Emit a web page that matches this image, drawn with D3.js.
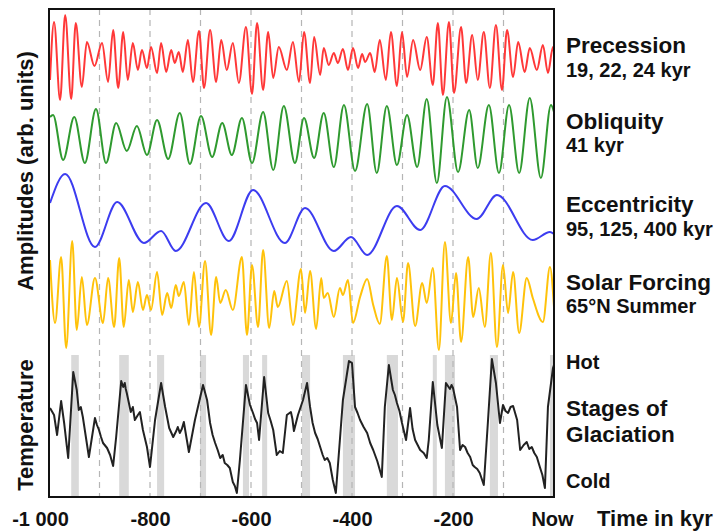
<!DOCTYPE html>
<html>
<head>
<meta charset="utf-8">
<script src="https://cdn.jsdelivr.net/npm/d3@7"></script>
<style>
  body { margin: 0; background: #fff; }
  text { font-family: "Liberation Sans", Arial, sans-serif; font-weight: bold; fill: #111; }
</style>
</head>
<body>
<div id="chart"></div>
<script>
// values: [time in kyr, amplitude in arb. units]
const precession = [[-998,-22],[-990,36],[-978,-42],[-968,43],[-956,-41],[-947,35],[-935,-29],[-925,16],[-910,-8],
  [-895,15],[-883,-24],[-873,28],[-863,-30],[-853,26],[-844,-22],[-834,15],[-824,-12],[-816,8],[-806,-10],[-798,11],
  [-786,-15],[-778,15],[-768,-14],[-758,8],[-751,-5],[-743,6],[-735,-14],[-725,18],[-715,-24],[-703,27],[-693,-30],
  [-681,28],[-669,-24],[-659,18],[-648,-12],[-636,15],[-624,-25],[-610,31],[-598,-36],[-588,35],[-576,-32],[-566,26],
  [-556,-20],[-545,11],[-529,-12],[-517,16],[-505,-24],[-495,26],[-483,-25],[-475,21],[-463,-17],[-456,10],[-446,-7],
  [-436,5],[-428,-5],[-418,9],[-408,-12],[-398,10],[-388,-10],[-380,4],[-374,-4],[-364,5],[-355,-14],[-345,18],
  [-333,-22],[-323,26],[-311,-28],[-301,26],[-291,-19],[-279,18],[-265,-12],[-252,21],[-240,-27],[-230,35],[-220,-37],
  [-208,36],[-198,-35],[-184,31],[-174,-25],[-162,23],[-151,-22],[-139,26],[-127,-30],[-115,33],[-103,-32],[-93,28],
  [-81,-19],[-71,16],[-58,-14],[-48,10],[-34,-12],[-22,13],[-12,-15],[-2,11],[0,6]];

const obliquity = [[-998,23],[-992,25],[-972,-20],[-950,23],[-929,-23],[-907,31],[-887,-23],[-867,17],[-846,-11],
  [-826,14],[-806,-15],[-786,20],[-764,-19],[-741,27],[-721,-24],[-699,24],[-677,-17],[-657,17],[-638,-15],[-618,22],
  [-598,-23],[-576,28],[-556,-30],[-535,34],[-513,-23],[-495,22],[-475,-18],[-456,27],[-436,-27],[-416,35],[-394,-31],
  [-370,36],[-351,-33],[-331,34],[-311,-25],[-291,25],[-271,-27],[-252,41],[-232,-43],[-212,43],[-190,-32],[-168,30],
  [-151,-28],[-129,35],[-109,-33],[-89,35],[-69,-33],[-48,42],[-26,-38],[-6,35],[0,28]];

const eccentricity = [[-998,12],[-968,41],[-909,-32],[-865,13],[-812,-28],[-778,-16],[-749,-36],[-689,12],[-644,-26],
  [-596,25],[-533,-28],[-493,7],[-436,-36],[-402,-22],[-370,-40],[-311,9],[-265,-15],[-216,29],[-153,-4],[-113,20],
  [-42,-25],[-8,-17],[0,-19]];

const solarForcing = [[-998,35],[-988,-28],[-976,38],[-966,-53],[-954,54],[-945,-35],[-935,18],[-925,-30],[-909,17],
  [-893,-28],[-883,17],[-871,-32],[-861,37],[-852,-32],[-842,15],[-834,-17],[-824,13],[-814,-15],[-806,0],[-798,-15],
  [-786,23],[-776,-20],[-766,2],[-758,-13],[-749,10],[-743,-1],[-733,13],[-723,-30],[-713,23],[-703,-32],[-691,34],
  [-679,-40],[-669,18],[-661,-8],[-650,5],[-636,-15],[-618,38],[-608,-40],[-598,30],[-586,-32],[-576,45],[-564,-33],
  [-554,4],[-547,-12],[-529,14],[-517,-30],[-501,26],[-493,-18],[-483,24],[-471,-34],[-461,17],[-456,-3],[-448,2],
  [-436,-22],[-424,7],[-418,0],[-408,15],[-398,-28],[-384,-2],[-370,16],[-358,-10],[-345,-29],[-331,39],[-321,-25],
  [-311,17],[-299,-27],[-289,32],[-275,-31],[-261,12],[-252,-8],[-240,27],[-228,-55],[-216,53],[-204,-28],[-194,22],
  [-184,-47],[-170,38],[-160,-22],[-149,7],[-137,-32],[-125,42],[-113,-52],[-101,30],[-91,-18],[-81,23],[-69,-38],
  [-54,17],[-42,-3],[-22,-27],[-8,28],[0,-12]];

const temperature = [[-998,87],[-990,80],[-984,60],[-976,94],[-970,72],[-962,37],[-952,123],[-945,105],[-941,85],
  [-937,88],[-933,78],[-921,38],[-909,77],[-905,70],[-901,65],[-897,58],[-893,52],[-885,47],[-879,40],[-873,29],
  [-867,58],[-857,114],[-853,108],[-850,112],[-848,106],[-846,102],[-838,83],[-834,88],[-830,75],[-824,80],[-820,83],
  [-814,65],[-806,48],[-800,28],[-790,75],[-778,112],[-770,88],[-762,67],[-754,58],[-748,64],[-745,68],[-741,62],
  [-737,66],[-733,73],[-727,55],[-723,43],[-711,75],[-695,110],[-687,95],[-681,72],[-676,60],[-671,52],[-666,45],
  [-661,37],[-656,40],[-652,32],[-647,30],[-642,27],[-636,13],[-632,9],[-628,2],[-622,35],[-610,110],[-602,90],
  [-596,82],[-592,76],[-588,72],[-584,55],[-574,118],[-566,82],[-561,74],[-556,65],[-549,40],[-543,44],[-537,42],
  [-529,80],[-521,83],[-518,76],[-515,64],[-507,80],[-497,95],[-489,112],[-483,88],[-478,72],[-473,62],[-468,56],
  [-463,48],[-458,40],[-454,35],[-449,37],[-444,32],[-438,15],[-432,2],[-424,55],[-418,95],[-406,134],[-400,132],
  [-394,88],[-389,82],[-384,75],[-377,68],[-370,62],[-364,52],[-358,45],[-350,34],[-341,18],[-335,88],[-327,130],
  [-319,105],[-315,100],[-311,92],[-306,84],[-301,72],[-293,55],[-285,87],[-280,66],[-275,55],[-270,50],[-265,45],
  [-258,42],[-252,37],[-248,55],[-240,113],[-231,70],[-222,47],[-214,112],[-206,106],[-203,110],[-200,107],[-192,88],
  [-186,45],[-181,50],[-176,48],[-171,42],[-166,38],[-161,30],[-157,28],[-152,26],[-147,22],[-139,10],[-131,72],
  [-123,136],[-115,112],[-107,72],[-101,90],[-96,84],[-91,82],[-86,88],[-81,89],[-73,75],[-67,45],[-60,50],[-54,53],
  [-49,46],[-44,48],[-39,42],[-34,38],[-28,28],[-23,20],[-18,7],[-12,88],[-2,127],[0,130]];

// interglacial stages (grey bands), kyr
const interglacials = [[-956,-941],[-861,-842],[-786,-772],[-701,-689],[-616,-604],[-578,-568],[-499,-483],
  [-418,-394],[-331,-309],[-240,-232],[-216,-196],[-127,-111],[-8,0]];

const tickValues = [-1000, -800, -600, -400, -200, 0];
const tickLabels = ["-1 000", "-800", "-600", "-400", "-200", "Now"];
const gridValues = [-900, -800, -700, -600, -500, -400, -300, -200, -100];

const width = 719, height = 531;
const box = {left: 49, top: 9, right: 554, bottom: 497};

const svg = d3.select("#chart")
  .append("svg")
    .attr("width", width)
    .attr("height", height);

const x = d3.scaleLinear()
  .domain([-1000, 0])
  .range([box.left, box.right]);

// one panel per curve
const panels = [
  {data: precession,   color: "#ff3838", domain: [-45, 45],  range: [103, 13],  curve: d3.curveMonotoneX},
  {data: obliquity,    color: "#2f9a2f", domain: [-45, 45],  range: [185, 95],  curve: d3.curveMonotoneX},
  {data: eccentricity, color: "#3c3cf0", domain: [-45, 45],  range: [260, 170], curve: d3.curveMonotoneX},
  {data: solarForcing, color: "#ffc20a", domain: [-60, 60],  range: [355, 235], curve: d3.curveMonotoneX},
  {data: temperature,  color: "#222222", domain: [0, 140],   range: [495, 355], curve: d3.curveLinear}
];

svg.append("clipPath")
    .attr("id", "clip")
  .append("rect")
    .attr("x", box.left)
    .attr("y", box.top)
    .attr("width", box.right - box.left)
    .attr("height", box.bottom - box.top);

const plot = svg.append("g").attr("clip-path", "url(#clip)");

// grey bands
plot.selectAll("rect.band")
  .data(interglacials)
  .join("rect")
    .attr("class", "band")
    .attr("x", d => x(d[0]))
    .attr("width", d => x(d[1]) - x(d[0]))
    .attr("y", 355)
    .attr("height", box.bottom - 355)
    .attr("fill", "#d9d9d9");

// dashed guides
plot.selectAll("line.grid")
  .data(gridValues)
  .join("line")
    .attr("class", "grid")
    .attr("x1", d => x(d))
    .attr("x2", d => x(d))
    .attr("y1", box.top)
    .attr("y2", box.bottom)
    .attr("stroke", "#b5b5b5")
    .attr("stroke-width", 1.2)
    .attr("stroke-dasharray", "6,5");

panels.forEach(p => {
  const y = d3.scaleLinear().domain(p.domain).range(p.range);
  const line = d3.line()
    .x(d => x(d[0]))
    .y(d => y(d[1]))
    .curve(p.curve);
  plot.append("path")
    .datum(p.data)
    .attr("fill", "none")
    .attr("stroke", p.color)
    .attr("stroke-width", 2)
    .attr("stroke-linejoin", "round")
    .attr("d", line);
});

// frame
svg.append("rect")
  .attr("x", box.left)
  .attr("y", box.top)
  .attr("width", box.right - box.left)
  .attr("height", box.bottom - box.top)
  .attr("fill", "none")
  .attr("stroke", "#111")
  .attr("stroke-width", 2);

// x axis
const xAxis = svg.append("g")
  .call(d3.axisBottom(x)
    .tickValues(tickValues)
    .tickFormat((d, i) => tickLabels[i])
    .tickSize(0));
xAxis.select(".domain").remove();
xAxis.selectAll("text")
  .attr("y", 526)
  .attr("dy", 0)
  .attr("dx", (d, i) => i === 0 ? -9 : (i === tickValues.length - 1 ? -2 : 0))
  .style("font-size", "20px")
  .style("font-family", "'Liberation Sans', Arial, sans-serif")
  .style("font-weight", "bold")
  .attr("fill", "#111");

svg.append("text")
  .attr("x", 597)
  .attr("y", 526)
  .style("font-size", "22px")
  .text("Time in kyr");

// y titles
svg.append("text")
  .attr("transform", "translate(33,171) rotate(-90)")
  .attr("text-anchor", "middle")
  .style("font-size", "22px")
  .text("Amplitudes (arb. units)");

svg.append("text")
  .attr("transform", "translate(33,425) rotate(-90)")
  .attr("text-anchor", "middle")
  .style("font-size", "22px")
  .text("Temperature");

// right-hand labels
const rightLabels = [
  ["Precession", 53, 22.5], ["19, 22, 24 kyr", 77, 20],
  ["Obliquity", 129, 22.5], ["41 kyr", 152, 20],
  ["Eccentricity", 212, 22.5], ["95, 125, 400 kyr", 236, 20],
  ["Solar Forcing", 290, 22.5], ["65°N Summer", 313, 20],
  ["Hot", 369, 20], ["Stages of", 416, 22.5], ["Glaciation", 442, 22.5], ["Cold", 488, 20]
];
svg.selectAll("text.side")
  .data(rightLabels)
  .join("text")
    .attr("class", "side")
    .attr("x", 566)
    .attr("y", d => d[1])
    .style("font-size", d => d[2] + "px")
    .text(d => d[0]);
</script>
</body>
</html>
